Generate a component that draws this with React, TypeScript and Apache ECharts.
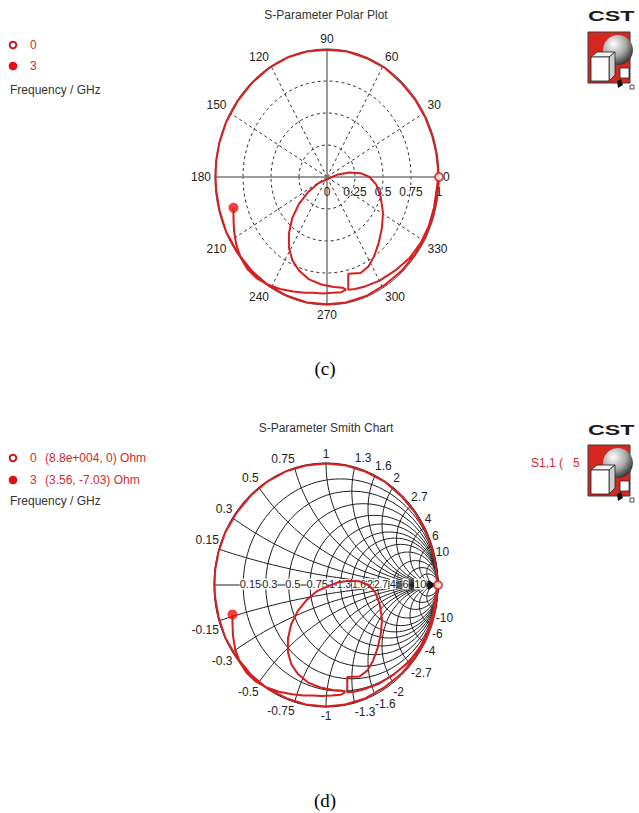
import React, { useEffect, useRef } from "react";
import * as echarts from "echarts";

const s11Re = [
  1.0, 0.99, 0.975, 0.94, 0.88, 0.79, 0.67, 0.52, 0.35, 0.17, 0.0, -0.18, -0.35, -0.52, -0.67, -0.8, -0.9, -0.96, -0.99,
  -0.995, -0.99, -0.96, -0.9, -0.8, -0.67, -0.52, -0.35, -0.18, 0.0, 0.18, 0.35, 0.52, 0.67, 0.79, 0.88, 0.94, 0.975,
  0.99, 0.99, 0.975, 0.955, 0.91, 0.84, 0.74, 0.61, 0.47, 0.34, 0.25, 0.19, 0.19, 0.19, 0.3, 0.37, 0.42, 0.46, 0.49,
  0.5, 0.48, 0.44, 0.38, 0.3, 0.2, 0.1, 0.02, -0.08, -0.17, -0.25, -0.31, -0.34, -0.34, -0.31, -0.25, -0.16, -0.05,
  0.06, 0.14, 0.17, 0.13, 0.05, -0.04, -0.12, -0.2, -0.3, -0.42, -0.53, -0.63, -0.71, -0.77, -0.81, -0.83, -0.835,
  -0.835,
];
const s11Im = [
  0.0, -0.09, -0.2, -0.33, -0.47, -0.6, -0.73, -0.84, -0.93, -0.98, -0.995, -0.98, -0.93, -0.85, -0.735, -0.59, -0.43,
  -0.26, -0.1, 0.0, 0.12, 0.27, 0.43, 0.59, 0.735, 0.85, 0.935, 0.98, 0.995, 0.98, 0.93, 0.85, 0.73, 0.6, 0.46, 0.32,
  0.19, 0.07, -0.02, -0.12, -0.24, -0.38, -0.51, -0.63, -0.73, -0.81, -0.855, -0.875, -0.88, -0.82, -0.755, -0.75,
  -0.7, -0.62, -0.52, -0.4, -0.28, -0.16, -0.06, 0.0, 0.03, 0.035, 0.02, -0.01, -0.05, -0.12, -0.21, -0.32, -0.44,
  -0.55, -0.65, -0.73, -0.8, -0.84, -0.86, -0.865, -0.88, -0.9, -0.905, -0.91, -0.905, -0.905, -0.895, -0.875, -0.84,
  -0.79, -0.72, -0.63, -0.53, -0.42, -0.32, -0.241,
];
const markerFreqs = ["0", "3"];
const smithMarkerText = ["(8.8e+004, 0) Ohm", "(3.56, -7.03) Ohm"];
const angleTicks = [0, 30, 60, 90, 120, 150, 180, 210, 240, 270, 300, 330];
const radiusTicks = [0, 0.25, 0.5, 0.75, 1];
const radiusTickLabels = ["0", "0.25", "0.5", "0.75", "1"];
const smithTicks = [0.15, 0.3, 0.5, 0.75, 1, 1.3, 1.6, 2, 2.7, 4, 6, 10];
const smithTickLabels = ["0.15", "0.3", "0.5", "0.75", "1", "1.3", "1.6", "2", "2.7", "4", "6", "10"];

// ---- layout ----
const P = { cx: 327, cy: 177, rx: 112, ry: 128 };
const S = { cx: 326, cy: 585, rx: 112, ry: 122 };
const RED = "#d81e1e";
const FONT = '"Liberation Sans", Arial, sans-serif';

function txt(text: string, x: number, y: number, o: any = {}) {
  const align = o.align || "left";
  const valign = o.valign || "middle";
  const st: any = {
    text, x, y,
    fontSize: o.size || 12,
    fontFamily: o.family || FONT,
    fontWeight: o.weight || "normal",
    fill: o.color || "#222",
    align, verticalAlign: valign,
    textAlign: align, textVerticalAlign: valign,
  };
  if (o.bg) { st.backgroundColor = o.bg; st.textBackgroundColor = o.bg; }
  return { type: "text", silent: true, z: o.z ?? 1, style: st };
}

function line(x1: number, y1: number, x2: number, y2: number, stroke: string, w: number, dash?: number[], z = 0) {
  const style: any = { stroke, lineWidth: w };
  if (dash) style.lineDash = dash;
  return { type: "line", silent: true, z, shape: { x1, y1, x2, y2 }, style };
}

function ellipse(cx: number, cy: number, rx: number, ry: number, stroke: string, w: number, dash?: number[], z = 0) {
  const style: any = { fill: "none", stroke, lineWidth: w };
  if (dash) style.lineDash = dash;
  return { type: "ellipse", silent: true, z, shape: { cx, cy, rx, ry }, style };
}

function cstLogo(x0: number, yText: number, yBox: number) {
  const sphere = new echarts.graphic.RadialGradient(0.35, 0.3, 0.75, [
    { offset: 0, color: "#ffffff" },
    { offset: 0.55, color: "#a8a8a8" },
    { offset: 1, color: "#2e2e2e" },
  ]);
  return [
    {
      type: "group", x: x0, y: yText, scaleX: 1.55, z: 1,
      children: [txt("CST", 0, 0, { size: 15, weight: "bold", color: "#1a1a1a", valign: "top" })],
    },
    {
      type: "group", x: x0, y: yBox, z: 1,
      children: [
        { type: "rect", z: 1, shape: { x: 0, y: 0, width: 42, height: 51 }, style: { fill: "#d5261f", stroke: "#3a3a3a", lineWidth: 1 } },
        { type: "circle", z: 1, shape: { cx: 30, cy: 18, r: 15 }, style: { fill: sphere } },
        { type: "polygon", z: 1, shape: { points: [[3, 25], [9, 20], [27, 20], [21, 25]] }, style: { fill: "#f2f2f2", stroke: "#222", lineWidth: 0.8 } },
        { type: "polygon", z: 1, shape: { points: [[21, 25], [27, 20], [27, 43], [21, 49]] }, style: { fill: "#cfcfcf", stroke: "#222", lineWidth: 0.8 } },
        { type: "rect", z: 1, shape: { x: 3, y: 25, width: 18, height: 24 }, style: { fill: "#ffffff", stroke: "#222", lineWidth: 0.8 } },
        { type: "rect", z: 1, shape: { x: 32, y: 36, width: 9, height: 10 }, style: { fill: "#ffffff", stroke: "#222", lineWidth: 0.8 } },
        { type: "polygon", z: 1, shape: { points: [[29, 49], [33, 47], [35, 53], [30, 56]] }, style: { fill: "#111" } },
        { type: "rect", z: 1, shape: { x: 42, y: 53, width: 4, height: 4 }, style: { fill: "#fff", stroke: "#222", lineWidth: 0.8 } },
      ],
    },
  ];
}

function textWidth(s: string, size: number) {
  let w = 0;
  for (const ch of s) w += ch === "." ? 0.278 : ch === "-" ? 0.333 : 0.556;
  return w * size;
}

function buildGraphics() {
  const els: any[] = [];
  // titles
  els.push(txt("S-Parameter Polar Plot", 326, 15, { align: "center", color: "#333" }));
  els.push(txt("S-Parameter Smith Chart", 326, 428, { align: "center", color: "#333" }));

  // ---- polar grid ----
  radiusTicks.forEach((v) => {
    if (v > 0 && v < 1) els.push(ellipse(P.cx, P.cy, P.rx * v, P.ry * v, "#333", 1, [3, 3]));
  });
  angleTicks.forEach((a) => {
    if (a % 90 === 0) return;
    const t = (a * Math.PI) / 180;
    els.push(line(P.cx, P.cy, P.cx + P.rx * Math.cos(t), P.cy - P.ry * Math.sin(t), "#333", 1, [3, 3]));
  });
  els.push(ellipse(P.cx, P.cy, P.rx, P.ry, "#555", 1));
  els.push(line(P.cx - P.rx, P.cy, P.cx + P.rx, P.cy, "#7a7a7a", 1.5));
  els.push(line(P.cx, P.cy - P.ry, P.cx, P.cy + P.ry, "#7a7a7a", 1.5));
  angleTicks.forEach((a) => {
    const t = (a * Math.PI) / 180;
    const c = Math.cos(t), s = Math.sin(t);
    const x = P.cx + (P.rx + 4) * c;
    const y = P.cy - (P.ry + 4) * s;
    const align = c < -0.1 ? "right" : c > 0.1 ? "left" : "center";
    const valign = s > 0.1 ? "bottom" : s < -0.1 ? "top" : "middle";
    els.push(txt(String(a), x, y, { align, valign }));
  });
  radiusTicks.forEach((v, i) => {
    els.push(txt(radiusTickLabels[i], P.cx + P.rx * v, P.cy + 15, { align: "center" }));
  });

  // ---- smith grid ----
  const sx = (re: number) => S.cx + S.rx * re;
  const sy = (im: number) => S.cy - S.ry * im;
  smithTicks.forEach((r) => {
    els.push(ellipse(sx(r / (1 + r)), S.cy, S.rx / (1 + r), S.ry / (1 + r), "#1e1e1e", 1));
  });
  smithTicks.forEach((x) => {
    let tp = Math.atan2((x * x - 1) / (x * (x * x + 1)), -2 / (x * x + 1));
    if (tp > -Math.PI / 2) tp -= 2 * Math.PI;
    [1, -1].forEach((sign) => {
      const pts: number[][] = [];
      const n = 48;
      for (let k = 0; k <= n; k++) {
        const th = -Math.PI / 2 + ((tp + Math.PI / 2) * k) / n;
        const re = 1 + Math.cos(th) / x;
        const im = sign * (1 / x + Math.sin(th) / x);
        pts.push([sx(re), sy(im)]);
      }
      els.push({ type: "polyline", silent: true, z: 0, shape: { points: pts }, style: { fill: "none", stroke: "#1e1e1e", lineWidth: 1 } });
    });
  });
  els.push(ellipse(S.cx, S.cy, S.rx, S.ry, "#1e1e1e", 1));
  els.push(line(S.cx - S.rx, S.cy, S.cx + S.rx, S.cy, "#1e1e1e", 1));
  els.push(line(398, 571, 398, 589, "#333", 1, [1, 1]));
  els.push({ type: "polygon", silent: true, z: 1, shape: { points: [[428, 580], [436, 585], [428, 590]] }, style: { fill: "#111" } });

  // resistance labels on the real axis (packed so they do not collide)
  let prevRight = -1e9;
  smithTicks.forEach((r, i) => {
    const g = (r - 1) / (r + 1);
    const label = smithTickLabels[i];
    const size = label === "1.3" || label === "1.6" || label === "2.7" ? 10 : 11;
    const start = Math.max(prevRight + 1, sx(g) - 3.5);
    prevRight = start + textWidth(label, size);
    els.push(txt(label, start, S.cy - 1, { bg: "#ffffff", size }));
  });
  // reactance labels around the rim
  smithTicks.forEach((x, i) => {
    const re = (x * x - 1) / (x * x + 1);
    const im = (2 * x) / (x * x + 1);
    const align = re < -0.05 ? "right" : re > 0.05 ? "left" : "center";
    els.push(txt(smithTickLabels[i], sx(re), sy(im) - 3, { align, valign: "bottom" }));
    els.push(txt("-" + smithTickLabels[i], sx(re), sy(-im) + 3, { align, valign: "top" }));
  });

  // ---- legends ----
  const legendC = [45, 66];
  const legendD = [458, 480];
  [legendC, legendD].forEach((ys, panel) => {
    els.push({ type: "circle", silent: true, z: 1, shape: { cx: 13, cy: ys[0], r: 3.3 }, style: { fill: "#fff", stroke: "#c01818", lineWidth: 2 } });
    els.push({ type: "circle", silent: true, z: 1, shape: { cx: 13, cy: ys[1], r: 4.3 }, style: { fill: "#e01010" } });
    markerFreqs.forEach((f, i) => {
      els.push(txt(f, 30, ys[i], { color: "#d42a2a" }));
      if (panel === 1) els.push(txt(smithMarkerText[i], 45, ys[i], { color: "#d42a2a" }));
    });
    els.push(txt("Frequency / GHz", 10, panel === 0 ? 90 : 501, { color: "#333" }));
  });
  els.push(txt("S1,1 (   5", 531, 463, { color: "#d42a2a" }));

  // ---- logos ----
  els.push(...cstLogo(588, 8, 32));
  els.push(...cstLogo(588, 422, 445));

  // ---- captions ----
  els.push(txt("(c)", 325, 368, { align: "center", size: 19, family: '"Liberation Serif", "Times New Roman", serif', color: "#000" }));
  els.push(txt("(d)", 325, 800, { align: "center", size: 19, family: '"Liberation Serif", "Times New Roman", serif', color: "#000" }));
  return els;
}

function buildOption(): any {
  const pts = s11Re.map((r, i) => [r, s11Im[i]]);
  const last = pts.length - 1;
  const series: any[] = [];
  [0, 1].forEach((g) => {
    series.push({
      type: "line", xAxisIndex: g, yAxisIndex: g, data: pts, showSymbol: false, symbol: "none",
      clip: false, z: 3, lineStyle: { color: RED, width: 2 }, silent: true,
    });
    series.push({
      type: "scatter", xAxisIndex: g, yAxisIndex: g, data: [pts[0]], symbol: "circle", symbolSize: 8, z: 4,
      itemStyle: { color: "#ffffff", borderColor: RED, borderWidth: 2 }, silent: true,
    });
    series.push({
      type: "scatter", xAxisIndex: g, yAxisIndex: g, data: [pts[last]], symbol: "circle", symbolSize: 10, z: 4,
      itemStyle: { color: "#ee1111" }, silent: true,
    });
  });
  return {
    animation: false,
    backgroundColor: "#ffffff",
    grid: [
      { left: P.cx - P.rx, top: P.cy - P.ry, width: 2 * P.rx, height: 2 * P.ry },
      { left: S.cx - S.rx, top: S.cy - S.ry, width: 2 * S.rx, height: 2 * S.ry },
    ],
    xAxis: [
      { gridIndex: 0, type: "value", min: -1, max: 1, show: false },
      { gridIndex: 1, type: "value", min: -1, max: 1, show: false },
    ],
    yAxis: [
      { gridIndex: 0, type: "value", min: -1, max: 1, show: false },
      { gridIndex: 1, type: "value", min: -1, max: 1, show: false },
    ],
    graphic: { elements: buildGraphics() },
    series,
  };
}

export default function App() {
  const ref = useRef<HTMLDivElement>(null);
  useEffect(() => {
    const chart = echarts.init(ref.current as HTMLDivElement, null, { renderer: "svg" });
    chart.setOption(buildOption());
    return () => chart.dispose();
  }, []);
  return (
    <div
      ref={ref}
      style={{ position: "absolute", left: 0, top: 0, width: 639, height: 813, background: "#fff" }}
    />
  );
}
